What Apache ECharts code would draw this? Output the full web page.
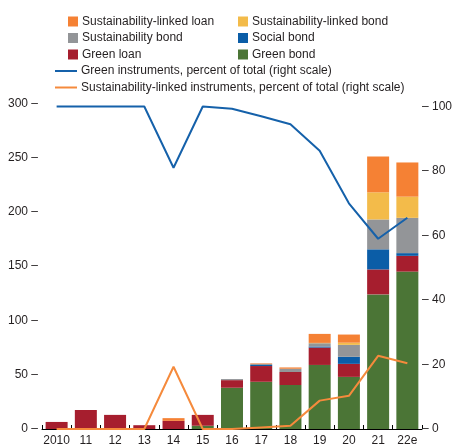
<!DOCTYPE html>
<html><head><meta charset="utf-8">
<script src="https://cdn.jsdelivr.net/npm/echarts@6/dist/echarts.min.js"></script>
<style>html,body{margin:0;padding:0;background:#fff}#c{width:455px;height:447px}</style>
</head><body><div id="c"></div>
<script>
const categories = ['2010','11','12','13','14','15','16','17','18','19','20','21','22e'];
const greenBond      = [0, 0, 0, 0, 0, 3, 38, 43.5, 40.5, 59, 48, 124, 145];
const greenLoan      = [6.5, 17.5, 13, 3.5, 7.5, 10, 7, 14.5, 12, 16, 12, 23, 14.5];
const socialBond     = [0, 0, 0, 0, 0, 0, 0, 1, 0, 1, 6.5, 18.5, 2.5];
const sustBond       = [0, 0, 0, 0, 0, 0, 1, 1, 3, 3, 11, 27.5, 32.5];
const sustLinkedBond = [0, 0, 0, 0, 0, 0, 0, 0, 0, 0.3, 2, 25, 19.5];
const sustLinkedLoan = [0, 0, 0, 0, 2.5, 0, 0, 0.5, 1.2, 8.3, 7.5, 33, 31.5];
const greenPct       = [100, 100, 100, 100, 81, 100, 99.3, 97, 94.5, 86.3, 70, 59, 65.5];
const sustLinkedPct  = [0, 0, 0, 0, 19.3, 0, 0, 0.5, 1, 8.8, 10.3, 22.7, 20.4];
const leftTicks = [0, 50, 100, 150, 200, 250, 300];
const rightTicks = [0, 20, 40, 60, 80, 100];

const FONT = "'Liberation Sans Narrow','Liberation Sans',Arial,sans-serif";
const FS = 12;
const TXT = '#231f20';
const C = {sll:'#F58134', slb:'#F3BB4A', sb:'#939598', soc:'#0B5DA7', gl:'#A61E2E', gb:'#4B7536', line1:'#1561AA', line2:'#F58A3C'};

function barSeries(name, data, color){
  return {name, type:'bar', stack:'s', data, barWidth:22, itemStyle:{color}, yAxisIndex:0, emphasis:{disabled:true}};
}
function legendItem(name, left, top, isLine){
  return {
    data:[name], left, top, itemGap:0, padding:0,
    icon:'rect', itemWidth: isLine?22:10, itemHeight: isLine?2:10,
    textStyle:{fontFamily:FONT, fontSize:FS, color:TXT, padding:[0,0,0,-1]},
    selectedMode:false
  };
}

const chart = echarts.init(document.getElementById('c'), null, {renderer:'canvas'});
chart.setOption({
  animation:false,
  backgroundColor:'#fff',
  textStyle:{fontFamily:FONT},
  grid:{left:42, right:28, top:103.3, bottom:18, containLabel:false},
  legend:[
    legendItem('Sustainability-linked loan', 68, 15.5),
    legendItem('Sustainability-linked bond', 238, 15.5),
    legendItem('Sustainability bond', 68, 32),
    legendItem('Social bond', 238, 32),
    legendItem('Green loan', 68, 48.5),
    legendItem('Green bond', 238, 48.5),
    legendItem('Green instruments, percent of total (right scale)', 55, 65, true),
    legendItem('Sustainability-linked instruments, percent of total (right scale)', 55, 81.5, true)
  ],
  xAxis:{
    type:'category', data:categories, boundaryGap:true,
    axisLine:{show:true, lineStyle:{color:'#000', width:1}},
    axisTick:{show:true, inside:true, length:4, lineStyle:{color:'#000'}},
    axisLabel:{fontFamily:FONT, fontSize:FS, color:TXT, margin:6, interval:0}
  },
  yAxis:[
    {type:'value', min:0, max:300, interval:50, position:'left',
     axisLine:{show:false}, axisTick:{show:false}, splitLine:{show:false},
     axisLabel:{fontFamily:FONT, fontSize:FS, color:TXT, margin:4,
       formatter:v=> leftTicks.includes(v) ? v+' \u2013' : ''}},
    {type:'value', min:0, max:101, interval:20, position:'right',
     axisLine:{show:false}, axisTick:{show:false}, splitLine:{show:false},
     axisLabel:{fontFamily:FONT, fontSize:FS, color:TXT, margin:0,
       formatter:v=> rightTicks.includes(v) ? '\u2013 '+v : ''}}
  ],
  series:[
    barSeries('Green bond', greenBond, C.gb),
    barSeries('Green loan', greenLoan, C.gl),
    barSeries('Social bond', socialBond, C.soc),
    barSeries('Sustainability bond', sustBond, C.sb),
    barSeries('Sustainability-linked bond', sustLinkedBond, C.slb),
    barSeries('Sustainability-linked loan', sustLinkedLoan, C.sll),
    {name:'Green instruments, percent of total (right scale)', type:'line', yAxisIndex:1, data:greenPct,
     symbol:'none', lineStyle:{color:C.line1, width:2}, itemStyle:{color:C.line1}, z:5},
    {name:'Sustainability-linked instruments, percent of total (right scale)', type:'line', yAxisIndex:1, data:sustLinkedPct,
     symbol:'none', lineStyle:{color:C.line2, width:2}, itemStyle:{color:C.line2}, z:5}
  ]
});
</script></body></html>
